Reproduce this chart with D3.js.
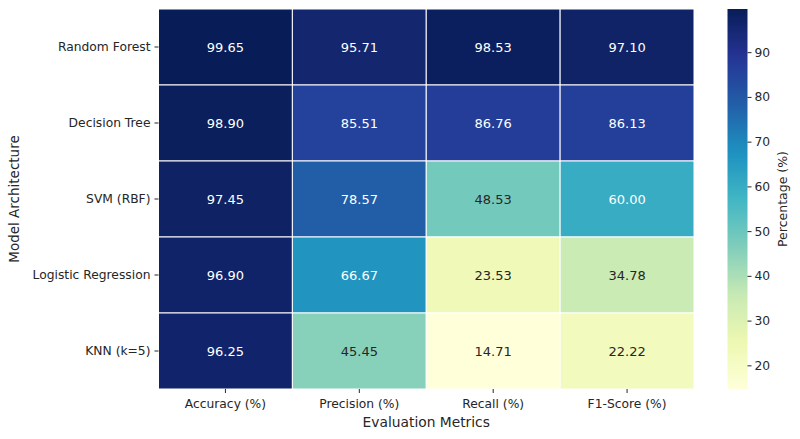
<!DOCTYPE html>
<html>
<head>
<meta charset="utf-8">
<script src="https://cdn.jsdelivr.net/npm/d3@7"></script>
<style>
  body { margin: 0; background: #fff; }
  svg text { font-family: "DejaVu Sans", sans-serif; fill: #262626; }
</style>
</head>
<body>
<svg id="chart" width="800" height="439"></svg>
<script>
// data
var models = ["Random Forest", "Decision Tree", "SVM (RBF)", "Logistic Regression", "KNN (k=5)"];
var metrics = ["Accuracy (%)", "Precision (%)", "Recall (%)", "F1-Score (%)"];
var accuracy = [99.65, 98.90, 97.45, 96.90, 96.25];
var precision = [95.71, 85.51, 78.57, 66.67, 45.45];
var recall = [98.53, 86.76, 48.53, 23.53, 14.71];
var f1 = [97.10, 86.13, 60.00, 34.78, 22.22];
var cbTicks = [20, 30, 40, 50, 60, 70, 80, 90];

var columns = [accuracy, precision, recall, f1];
var cells = [];
for (var r = 0; r < models.length; r++) {
    for (var c = 0; c < metrics.length; c++) {
        cells.push({ model: models[r], metric: metrics[c], value: columns[c][r] });
    }
}
var all = cells.map(function (d) { return d.value; });
var vmin = d3.min(all), vmax = d3.max(all);

// matplotlib YlGnBu
var ylgnbu = ["#ffffd9", "#edf8b1", "#c7e9b4", "#7fcdbb", "#41b6c4", "#1d91c0", "#225ea8", "#253494", "#081d58"];
var cmap = d3.scaleLinear()
    .domain(d3.range(ylgnbu.length).map(function (i) { return vmin + (vmax - vmin) * i / (ylgnbu.length - 1); }))
    .range(ylgnbu)
    .interpolate(d3.interpolateRgb)
    .clamp(true);

function textColor(col) {
    var rgb = d3.rgb(col);
    var lin = [rgb.r, rgb.g, rgb.b].map(function (v) {
        v = v / 255;
        return v <= 0.03928 ? v / 12.92 : Math.pow((v + 0.055) / 1.055, 2.4);
    });
    var lum = 0.2126 * lin[0] + 0.7152 * lin[1] + 0.0722 * lin[2];
    return lum > 0.408 ? "#262626" : "#ffffff";
}

var svg = d3.select("#chart");
var plotL = 158.5, plotT = 9, plotR = 694, plotB = 389;

var x = d3.scaleBand().domain(metrics).range([plotL, plotR]);
var y = d3.scaleBand().domain(models).range([plotT, plotB]);

svg.append("g").selectAll("rect")
    .data(cells).enter().append("rect")
    .attr("x", function (d) { return x(d.metric); })
    .attr("y", function (d) { return y(d.model); })
    .attr("width", x.bandwidth())
    .attr("height", y.bandwidth())
    .style("fill", function (d) { return cmap(d.value); })
    .style("stroke", "#fff")
    .style("stroke-width", 1);

svg.append("g").selectAll("text")
    .data(cells).enter().append("text")
    .attr("x", function (d) { return x(d.metric) + x.bandwidth() / 2; })
    .attr("y", function (d) { return y(d.model) + y.bandwidth() / 2; })
    .attr("text-anchor", "middle")
    .attr("dy", "0.36em")
    .style("font-size", "13px")
    .style("fill", function (d) { return textColor(cmap(d.value)); })
    .text(function (d) { return d.value.toFixed(2); });

// axes
var xAxis = svg.append("g")
    .attr("transform", "translate(0," + plotB + ")")
    .call(d3.axisBottom(x).tickSize(4).tickPadding(6));
var yAxis = svg.append("g")
    .attr("transform", "translate(" + plotL + ",0)")
    .call(d3.axisLeft(y).tickSize(4).tickPadding(4));
[xAxis, yAxis].forEach(function (g) {
    g.select(".domain").remove();
    g.selectAll("line").style("stroke", "#262626");
    g.selectAll("text").style("font-size", "12.3px").style("font-family", "DejaVu Sans").style("fill", "#262626");
});

svg.append("text")
    .attr("x", (plotL + plotR) / 2).attr("y", 427)
    .attr("text-anchor", "middle")
    .style("font-size", "13.8px")
    .text("Evaluation Metrics");

svg.append("text")
    .attr("transform", "translate(19," + (plotT + plotB) / 2 + ") rotate(-90)")
    .attr("text-anchor", "middle")
    .style("font-size", "13.5px")
    .text("Model Architecture");

// colorbar
var cbX = 727.5, cbW = 20;
var cbScale = d3.scaleLinear().domain([vmin, vmax]).range([plotB, plotT]);
var grad = svg.append("defs").append("linearGradient")
    .attr("id", "cbgrad").attr("x1", 0).attr("y1", 1).attr("x2", 0).attr("y2", 0);
grad.selectAll("stop")
    .data(d3.range(0, 1.0001, 0.02)).enter().append("stop")
    .attr("offset", function (t) { return t; })
    .attr("stop-color", function (t) { return cmap(vmin + t * (vmax - vmin)); });
svg.append("rect")
    .attr("x", cbX).attr("y", plotT)
    .attr("width", cbW).attr("height", plotB - plotT)
    .style("fill", "url(#cbgrad)");

var cbAxis = svg.append("g")
    .attr("transform", "translate(" + (cbX + cbW) + ",0)")
    .call(d3.axisRight(cbScale).tickValues(cbTicks).tickSize(4).tickPadding(3));
cbAxis.select(".domain").remove();
cbAxis.selectAll("line").style("stroke", "#262626");
cbAxis.selectAll("text").style("font-size", "12.3px").style("font-family", "DejaVu Sans").style("fill", "#262626");

svg.append("text")
    .attr("transform", "translate(787," + (plotT + plotB) / 2 + ") rotate(-90)")
    .attr("text-anchor", "middle")
    .style("font-size", "12.5px")
    .text("Percentage (%)");
</script>
</body>
</html>
